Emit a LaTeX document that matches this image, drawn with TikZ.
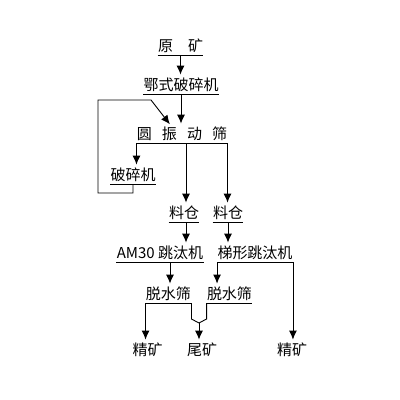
\documentclass[tikz,border=0pt]{standalone}
\usepackage{fontspec}
\newfontfamily\cjk{Noto Sans CJK SC}
\usetikzlibrary{arrows.meta}
\begin{document}
\begin{tikzpicture}[x=1pt,y=-1pt,line width=0.9pt]
        \tikzstyle{stage}=[inner sep=0pt,anchor=south,font=\cjk\fontsize{15}{18}\selectfont,text height=12pt,text depth=3pt]
        \tikzstyle{flow}=[draw,-{Latex[length=9pt,width=8pt]},shorten >=3.5pt]
       \useasboundingbox (0,0) rectangle (400,400);
       \begin{scope}
         \node [stage] (yk) at (180.5,55) {原\hspace{1em}矿};
         \node [stage] (ep) at (181,94) {鄂式破碎机};
         \node [stage] (yz) at (182,143) {圆\hspace{0.67em}振\hspace{0.67em}动\hspace{0.67em}筛};
         \node [stage] (ps) at (133,184) {破碎机};
         \node [stage] (lc1) at (184,222) {料仓};
         \node [stage] (lc2) at (228,222) {料仓};
         \node [stage] (am) at (160,262) {AM30 跳汰机};
         \node [stage] (tx) at (255,262) {梯形跳汰机};
         \node [stage] (ts1) at (168.5,303) {脱水筛};
         \node [stage] (ts2) at (229.5,303) {脱水筛};
         \node [stage] (jk1) at (147.5,359) {精矿};
         \node [stage] (wk) at (202,359) {尾矿};
         \node [stage] (jk2) at (292,359) {精矿};
         \coordinate (back) at (98,100);
         \coordinate (feed) at (172,127);
         \coordinate (mg) at (199,323);

         \foreach \n in {yk,ep,yz,ps,lc1,lc2,am,tx,ts1,ts2}
           \draw (\n.south west) -- (\n.south east);

         \path[flow] (yk.south) -- (yk.south |- ep.north);
         \path[flow] (ep.south) -- (ep.south |- yz.north);
         \path[flow] (ps.south) -- ++(0,9) -| (back) -- ++(53,0) -- (feed);
         \path[flow] (yz.south west) -- (yz.south west |- ps.north);
         \path[flow] ([xshift=2pt]lc1.north |- yz.south) -- ([xshift=2pt]lc1.north);
         \path[flow] (yz.south east) -- (yz.south east |- lc2.north);
         \path[flow] ([xshift=2pt]lc1.south) -- ([xshift=2pt]lc1.south |- am.north);
         \path[flow] (lc2.south) -- (lc2.south |- tx.north);
         \path[flow] ([xshift=1.5pt]ts1.north |- am.south) -- ([xshift=1.5pt]ts1.north);
         \path[flow] (tx.south west) -- (tx.south west |- ts2.north);
         \path[flow] (tx.south east) -- (tx.south east |- jk2.north);
         \path[flow] (ts1.south west) -- (ts1.south west |- jk1.north);
         \draw (ts1.south east) -- ++(0,16) -- (mg);
         \draw (ts2.south west) -- ++(0,16) -- (mg);
         \path[flow] (mg) -- (mg |- wk.north);
        \end{scope}
      \end{tikzpicture}
\end{document}
